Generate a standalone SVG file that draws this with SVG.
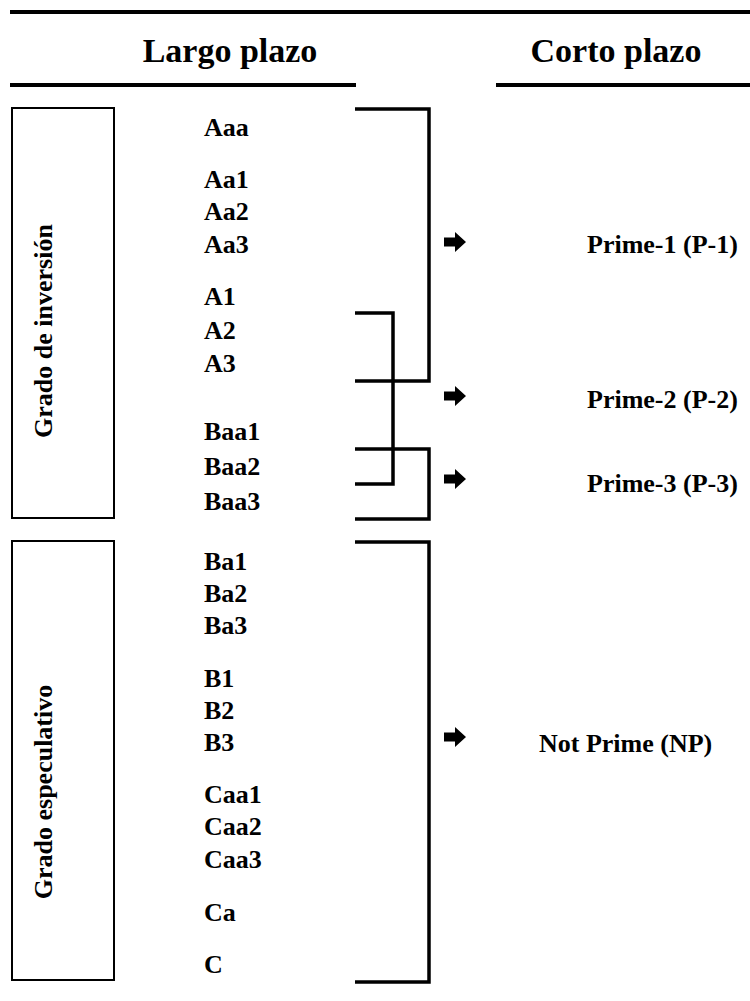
<svg xmlns="http://www.w3.org/2000/svg" xmlns:xlink="http://www.w3.org/1999/xlink" width="750" height="1001" viewBox="0 0 750 1001">
<style>
  .hdr { font-family: "Liberation Serif", "Times New Roman", serif; font-weight: bold; font-size: 34px; fill: #000; }
  .lbl { font-family: "Liberation Serif", "Times New Roman", serif; font-weight: bold; font-size: 26px; fill: #000; }
  .rule { stroke: #000; stroke-width: 4; fill: none; }
  .box { stroke: #000; stroke-width: 2; fill: #fff; }
  .br { stroke: #000; stroke-width: 3.5; fill: none; stroke-linejoin: miter; }
</style>
<defs>
  <path id="arr" d="M0,-4.5 H11 V-10 L22,0 L11,10 V4.5 H0 Z" fill="#000"/>
</defs>
<rect width="750" height="1001" fill="#fff"/>
<g id="header">
  <line class="rule" x1="10" y1="12" x2="750" y2="12"/>
  <line class="rule" x1="10" y1="85" x2="356" y2="85"/>
  <line class="rule" x1="496" y1="85" x2="750" y2="85"/>
  <text class="hdr" x="230" y="62" text-anchor="middle">Largo plazo</text>
  <text class="hdr" x="616" y="62" text-anchor="middle">Corto plazo</text>
</g>
<g id="grado-inversion">
  <rect class="box" x="12" y="108" width="102" height="410"/>
  <text class="lbl" transform="translate(52,331) rotate(-90)" text-anchor="middle">Grado de inversión</text>
</g>
<g id="grado-especulativo">
  <rect class="box" x="12" y="541" width="102" height="439"/>
  <text class="lbl" transform="translate(52,792) rotate(-90)" text-anchor="middle">Grado especulativo</text>
</g>
<g id="ratings-long">
  <text class="lbl" x="204" y="136">Aaa</text>
  <text class="lbl" x="204" y="188">Aa1</text>
  <text class="lbl" x="204" y="220">Aa2</text>
  <text class="lbl" x="204" y="253">Aa3</text>
  <text class="lbl" x="204" y="305">A1</text>
  <text class="lbl" x="204" y="339">A2</text>
  <text class="lbl" x="204" y="372">A3</text>
  <text class="lbl" x="204" y="440">Baa1</text>
  <text class="lbl" x="204" y="475">Baa2</text>
  <text class="lbl" x="204" y="510">Baa3</text>
  <text class="lbl" x="204" y="570">Ba1</text>
  <text class="lbl" x="204" y="602">Ba2</text>
  <text class="lbl" x="204" y="634">Ba3</text>
  <text class="lbl" x="204" y="687">B1</text>
  <text class="lbl" x="204" y="719">B2</text>
  <text class="lbl" x="204" y="751">B3</text>
  <text class="lbl" x="204" y="803">Caa1</text>
  <text class="lbl" x="204" y="835">Caa2</text>
  <text class="lbl" x="204" y="868">Caa3</text>
  <text class="lbl" x="204" y="921">Ca</text>
  <text class="lbl" x="204" y="973">C</text>
</g>
<g id="connectors">
  <path class="br" d="M355,109 H429 V381 H355"/>
  <path class="br" d="M355,313 H393 V484 H355"/>
  <path class="br" d="M355,449 H429 V519 H355"/>
  <path class="br" d="M355,542 H429 V982 H355"/>
  <use xlink:href="#arr" href="#arr" transform="translate(444,242)"/>
  <use xlink:href="#arr" href="#arr" transform="translate(444,396)"/>
  <use xlink:href="#arr" href="#arr" transform="translate(444,479)"/>
  <use xlink:href="#arr" href="#arr" transform="translate(444,737)"/>
</g>
<g id="ratings-short">
  <text class="lbl" x="587" y="253">Prime-1 (P-1)</text>
  <text class="lbl" x="587" y="408">Prime-2 (P-2)</text>
  <text class="lbl" x="587" y="492">Prime-3 (P-3)</text>
  <text class="lbl" x="539" y="752">Not Prime (NP)</text>
</g>
</svg>
